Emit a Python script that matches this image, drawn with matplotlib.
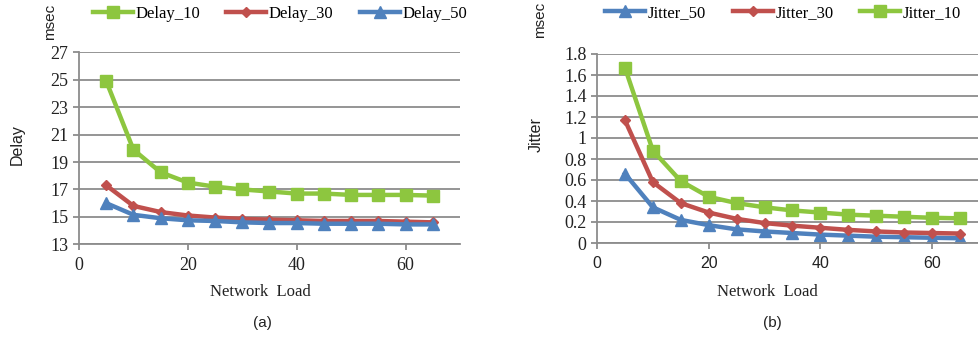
import matplotlib
matplotlib.use("Agg")
import matplotlib.pyplot as plt

load = [5, 10, 15, 20, 25, 30, 35, 40, 45, 50, 55, 60, 65]

delay_10 = [24.9, 19.9, 18.25, 17.5, 17.2, 17.0, 16.85, 16.7, 16.7, 16.6, 16.6, 16.6, 16.55]
delay_30 = [17.3, 15.8, 15.35, 15.1, 14.95, 14.85, 14.8, 14.75, 14.7, 14.7, 14.7, 14.65, 14.6]
delay_50 = [16.0, 15.15, 14.9, 14.75, 14.7, 14.6, 14.55, 14.55, 14.5, 14.5, 14.5, 14.45, 14.45]

jitter_10 = [1.67, 0.88, 0.59, 0.44, 0.38, 0.34, 0.31, 0.29, 0.27, 0.26, 0.25, 0.24, 0.235]
jitter_30 = [1.17, 0.58, 0.38, 0.29, 0.23, 0.19, 0.165, 0.145, 0.125, 0.11, 0.10, 0.095, 0.09]
jitter_50 = [0.66, 0.34, 0.22, 0.17, 0.13, 0.11, 0.095, 0.08, 0.07, 0.06, 0.055, 0.05, 0.045]

delay_ticks = [13, 15, 17, 19, 21, 23, 25, 27]
jitter_ticks = [0, 0.2, 0.4, 0.6, 0.8, 1, 1.2, 1.4, 1.6, 1.8]
jitter_tick_labels = ["0", "0.2", "0.4", "0.6", "0.8", "1", "1.2", "1.4", "1.6", "1.8"]
x_ticks = [0, 20, 40, 60]

GREEN = "#8DC63F"
RED = "#C0504D"
BLUE = "#4F81BD"
GRID = "#8C8C8C"
SERIF = "Liberation Serif"
SANS = "Liberation Sans"

W, H = 979, 339
fig = plt.figure(figsize=(W / 100, H / 100), dpi=100)

def box(l, r, b, t):
    return [l / W, 1 - b / H, (r - l) / W, (b - t) / H]

axA = fig.add_axes(box(79, 460, 244.3, 52.3))
axB = fig.add_axes(box(597, 979, 243, 54))

styles = {
    "g": dict(color=GREEN, marker="s", markersize=9, lw=3.2),
    "r": dict(color=RED, marker="D", markersize=5.5, lw=3.2),
    "b": dict(color=BLUE, marker="^", markersize=9, lw=3.2),
}

lA = [
    axA.plot(load, delay_10, label="Delay_10", **styles["g"])[0],
    axA.plot(load, delay_30, label="Delay_30", **styles["r"])[0],
    axA.plot(load, delay_50, label="Delay_50", **styles["b"])[0],
]
lB = [
    axB.plot(load, jitter_50, label="Jitter_50", **styles["b"])[0],
    axB.plot(load, jitter_30, label="Jitter_30", **styles["r"])[0],
    axB.plot(load, jitter_10, label="Jitter_10", **styles["g"])[0],
]

for ax, xmax in ((axA, 70), (axB, 68.4)):
    ax.set_xlim(0, xmax)
    ax.set_xticks(x_ticks)
    ax.grid(axis="y", color=GRID, lw=1.3)
    ax.set_axisbelow(True)
    for s in ("top", "right"):
        ax.spines[s].set_visible(False)
    for s in ("left", "bottom"):
        ax.spines[s].set_color(GRID)
        ax.spines[s].set_linewidth(1.3)
    ax.tick_params(axis="both", colors=GRID, width=1.3, length=4, labelcolor="#222222")
    for lab in ax.get_xticklabels() + ax.get_yticklabels():
        lab.set_fontfamily(SERIF)
        lab.set_fontsize(13)

axA.set_ylim(13, 27)
axA.set_yticks(delay_ticks)
axB.set_ylim(0, 1.8)
axB.set_yticks(jitter_ticks)
axB.set_yticklabels(jitter_tick_labels, fontfamily=SERIF, fontsize=13)
axA.tick_params(axis="x", labelsize=13, pad=5)
axB.tick_params(axis="x", labelsize=11.5, pad=5)
for lab in axB.get_xticklabels():
    lab.set_fontfamily(SANS)

legkw = dict(ncol=3, frameon=False, handlelength=2.4, columnspacing=1.6, handletextpad=0.15,
             prop={"family": SERIF, "size": 12}, loc="center")
fig.legend(handles=lA, bbox_to_anchor=(280 / W, 1 - 14 / H), **legkw)
fig.legend(handles=lB, bbox_to_anchor=(783 / W, 1 - 13 / H), **legkw)

def ftxt(x, y, s, **kw):
    fig.text(x / W, 1 - y / H, s, ha="center", va="center", color="#222222", **kw)

ftxt(50, 22, "msec", rotation=90, family=SANS, fontsize=11)
ftxt(540, 20, "msec", rotation=90, family=SANS, fontsize=11)
ftxt(17, 145, "Delay", rotation=90, family=SANS, fontsize=11.5)
ftxt(536, 135, "Jitter", rotation=90, family=SANS, fontsize=11.5)
ftxt(260, 292, "Network  Load", family=SERIF, fontsize=12)
ftxt(767, 292, "Network  Load", family=SERIF, fontsize=12)
ftxt(262, 323, "(a)", family=SANS, fontsize=11)
ftxt(772, 323, "(b)", family=SANS, fontsize=11)

fig.savefig("out.png", dpi=100)
